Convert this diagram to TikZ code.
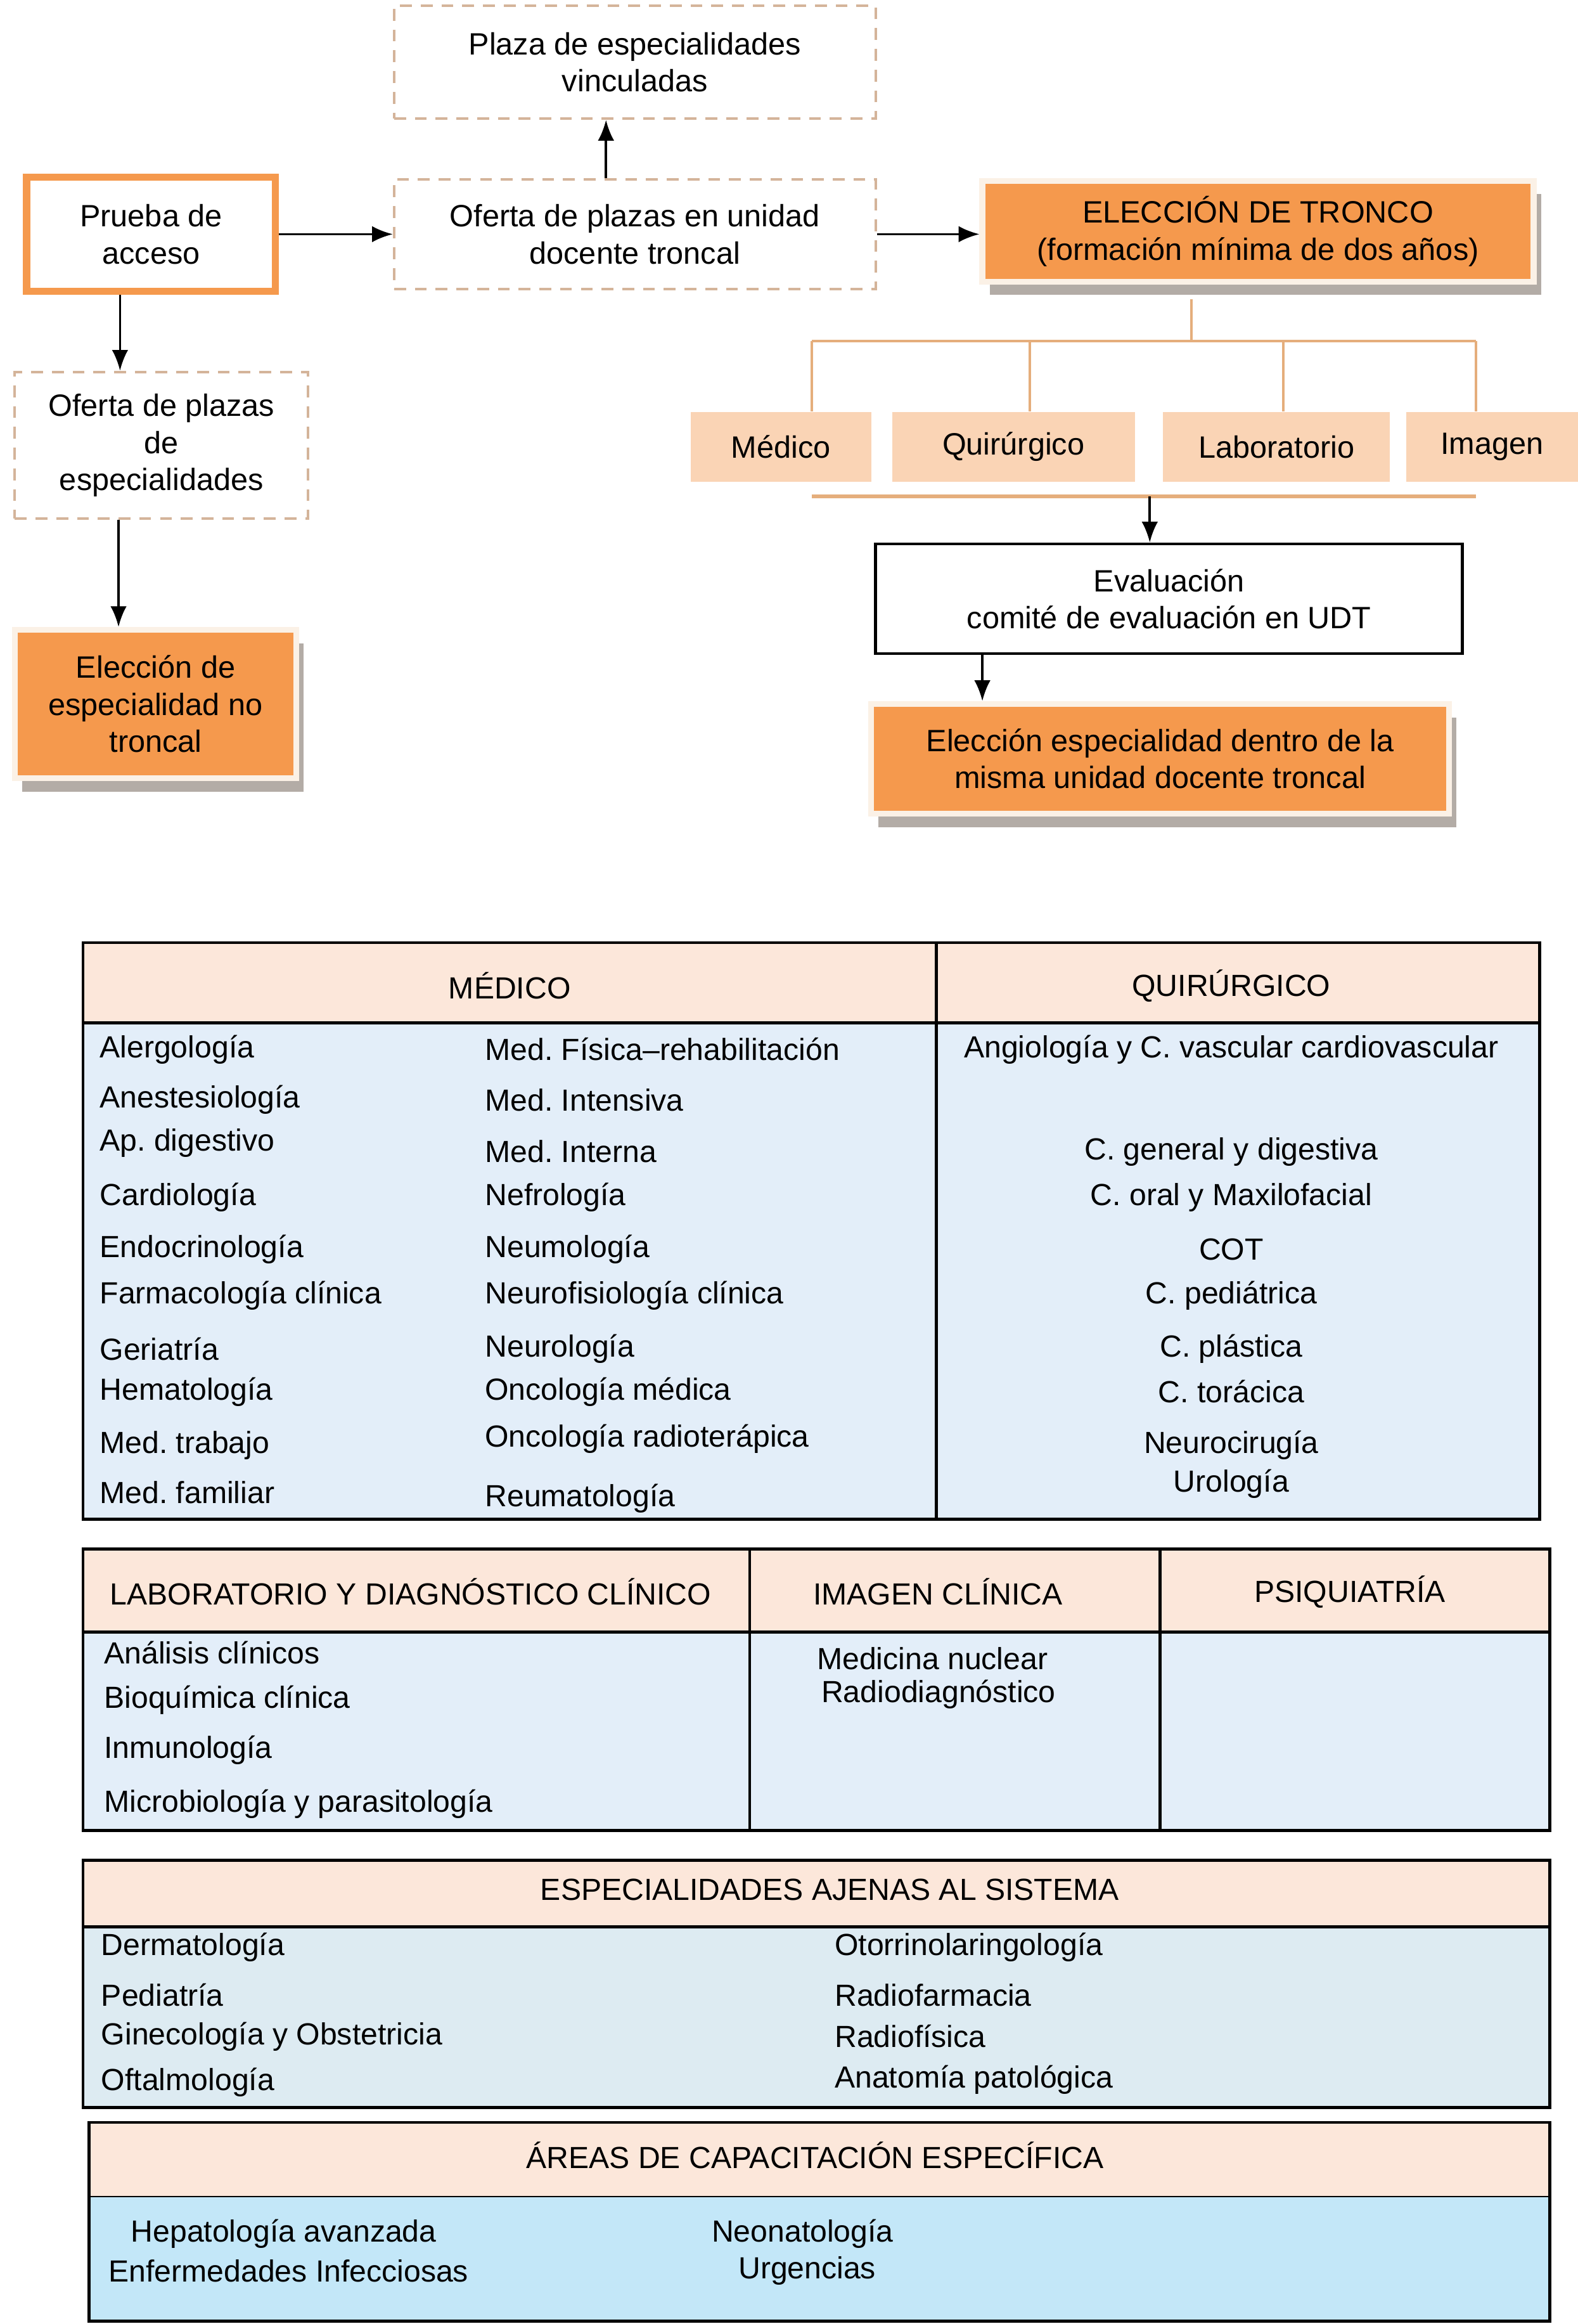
\documentclass[tikz,border=0pt]{standalone}
\usepackage{fontspec}
\setmainfont{Liberation Sans}
\usetikzlibrary{arrows.meta,shadows}
\frenchspacing
\definecolor{boxorange}{HTML}{F5994D}
\definecolor{tabpeach}{HTML}{FAD4B5}
\definecolor{headpeach}{HTML}{FCE7DA}
\definecolor{bodyblue}{HTML}{E3EEF9}
\definecolor{bodyteal}{HTML}{DDEBF2}
\definecolor{bodysky}{HTML}{C3E7F8}
\definecolor{dashtan}{HTML}{D4B49A}
\definecolor{treetan}{HTML}{E5AE7C}
\definecolor{shadowgray}{HTML}{B3ACA6}
\definecolor{paleframe}{HTML}{FBF1E6}
\tikzset{every picture/.append style={x=0.5pt,y=-0.5pt}}
\tikzset{flowtext/.style={font=\fontsize{10.4}{12.5}\selectfont, align=center}}
\tikzset{dashbox/.style={flowtext, rectangle, draw=dashtan, line width=0.9pt, dash pattern=on 4pt off 3pt, fill=white}}
\tikzset{cardbox/.style={flowtext, rectangle, fill=boxorange, draw=paleframe, line width=2pt, general shadow={fill=shadowgray, shadow xshift=2.5pt, shadow yshift=-4.5pt}}}
\tikzset{startbox/.style={flowtext, rectangle, fill=white, draw=boxorange, line width=2.4pt}}
\tikzset{tab/.style={flowtext, rectangle, fill=tabpeach}}
\tikzset{evalbox/.style={flowtext, rectangle, draw=black, line width=1pt, fill=white}}
\tikzset{flowarrow/.style={-{Latex[length=7pt,width=5.5pt]}, line width=0.8pt}}
\tikzset{treeline/.style={draw=treetan, line width=0.8pt}}
\tikzset{tableline/.style={draw=black, line width=1pt}}
\tikzset{cell/.style={font=\fontsize{10.3}{12.5}\selectfont, inner sep=0pt, anchor=west, align=left}}
\tikzset{cellc/.style={cell, anchor=center, align=center}}

\begin{document}
\begin{tikzpicture}
%flow of access to specialist training, then the specialities grouped by trunk
\fill[white] (0,0) rectangle (1065,1568);
\useasboundingbox (0,0) rectangle (1065,1568);
\node (plaza) at (428.5,42)[dashbox, minimum width=162.5pt, minimum height=38pt]{Plaza de especialidades\\vinculadas};
\node (prueba) at (102,158)[startbox, minimum width=84pt, minimum height=38.5pt]{Prueba de\\acceso};
\node (ofertaudt) at (428.5,158)[dashbox, minimum width=162.5pt, minimum height=37pt]{Oferta de plazas en unidad\\docente troncal};
\node (tronco) at (849,156)[cardbox, minimum width=186pt, minimum height=34pt]{ELECCIÓN DE TRONCO\\(formación mínima de dos años)};
\node (medico) at (527,301.5)[tab, minimum width=61pt, minimum height=23.5pt]{Médico};
\node (quirurgico) at (684,301.5)[tab, minimum width=82pt, minimum height=23.5pt]{Quirúrgico};
\node (laboratorio) at (861.5,301.5)[tab, minimum width=76.5pt, minimum height=23.5pt]{Laboratorio};
\node (imagen) at (1007,301.5)[tab, minimum width=58pt, minimum height=23.5pt]{Imagen};
\node (evaluacion) at (789,404)[evalbox, minimum width=198pt, minimum height=37pt]{Evaluación\\comité de evaluación en UDT};
\node (eleccionudt) at (783,512)[cardbox, minimum width=195pt, minimum height=37pt]{Elección especialidad dentro de la\\misma unidad docente troncal};
\node (ofertaesp) at (109,300.5)[dashbox, minimum width=99pt, minimum height=49.5pt]{Oferta de plazas\\de\\especialidades};
\node (notroncal) at (105,475)[cardbox, minimum width=95pt, minimum height=50pt]{Elección de\\especialidad no\\troncal};
\coordinate (bus) at (804,230);
\coordinate (busbottom) at (776,335);
\draw[flowarrow] (prueba.east)--(ofertaudt.west |- prueba.east);
\draw[flowarrow] ([xshift=-9.75pt]ofertaudt.north)--([xshift=-9.75pt]plaza.south);
\draw[flowarrow] (ofertaudt.east)--(tronco.west |- ofertaudt.east);
\draw[treeline] ([yshift=-5pt]tronco.south -| bus)--(bus);
\draw[treeline] (548,230)--(996,230);
\foreach \x/\n in {548/medico,695/quirurgico,866/laboratorio,996/imagen}
  \draw[treeline] (\x,230)--(\n.north -| \x,230);
\draw[treeline, line width=1.3pt] (548,335)--(996,335);
\draw[flowarrow] (busbottom)--(evaluacion.north -| busbottom);
\draw[flowarrow] (evaluacion.south -| 663,0)--(eleccionudt.north -| 663,0);
\draw[flowarrow] (prueba.south -| 81,0)--(ofertaesp.north -| 81,0);
\draw[flowarrow] (ofertaesp.south -| 80,0)--(notroncal.north -| 80,0);
% table of medical and surgical trunks
\fill[headpeach] (56,636) rectangle (1039,690);
\fill[bodyblue] (56,690) rectangle (1039,1025);
\draw[tableline] (56,636) rectangle (1039,1025);
\draw[tableline] (56,690)--(1039,690);
\draw[tableline] (632,636)--(632,1025);
\node (hmedico) at (344,665)[cellc]{MÉDICO};
\node (hquirurgico) at (831,665)[cellc]{QUIRÚRGICO};
\foreach \t/\y [count=\i] in {Alergología/708, Anestesiología/742, Ap. digestivo/771, Cardiología/808, Endocrinología/843, Farmacología clínica/874, Geriatría/910, Hematología/939, Med. trabajo/975, Med. familiar/1007}
  \node (meda\i) at (67,\y)[cell]{\t};
\foreach \t/\y [count=\i] in {Med. Física–rehabilitación/708, Med. Intensiva/742, Med. Interna/777, Nefrología/808, Neumología/843, Neurofisiología clínica/874, Neurología/910, Oncología médica/939, Oncología radioterápica/971, Reumatología/1011}
  \node (medb\i) at (327,\y)[cell]{\t};
\foreach \t/\y [count=\i] in {Angiología y C. vascular cardiovascular/708, C. general y digestiva/777, C. oral y Maxilofacial/808, COT/843, C. pediátrica/874, C. plástica/910, C. torácica/939, Neurocirugía/975, Urología/1001}
  \node (quir\i) at (831,\y)[cellc]{\t};
% laboratory, imaging and psychiatry
\fill[headpeach] (56,1045) rectangle (1046,1101);
\fill[bodyblue] (56,1101) rectangle (1046,1235);
\draw[tableline] (56,1045) rectangle (1046,1235);
\draw[tableline] (56,1101)--(1046,1101);
\draw[tableline] (506,1045)--(506,1235);
\draw[tableline] (783,1045)--(783,1235);
\node (hlab) at (74,1074)[cell]{LABORATORIO Y DIAGNÓSTICO CLÍNICO};
\node (himagen) at (633,1074)[cellc]{IMAGEN CLÍNICA};
\node (hpsiq) at (911,1074)[cellc]{PSIQUIATRÍA};
\foreach \t/\y [count=\i] in {Análisis clínicos/1115, Bioquímica clínica/1147, Inmunología/1181, Microbiología y parasitología/1217}
  \node (lab\i) at (70,\y)[cell]{\t};
\node (img1) at (551,1119)[cell]{Medicina nuclear};
\node (img2) at (554,1143)[cell]{Radiodiagnóstico};
% specialities outside the system
\fill[headpeach] (56,1255) rectangle (1046,1300);
\fill[bodyteal] (56,1300) rectangle (1046,1422);
\draw[tableline] (56,1255) rectangle (1046,1422);
\draw[tableline] (56,1300)--(1046,1300);
\node (hajenas) at (560,1275)[cellc]{ESPECIALIDADES AJENAS AL SISTEMA};
\foreach \t/\y [count=\i] in {Dermatología/1314, Pediatría/1346, Ginecología y Obstetricia/1374, Oftalmología/1405}
  \node (ajena\i) at (68,\y)[cell]{\t};
\foreach \t/\y [count=\i] in {Otorrinolaringología/1314, Radiofarmacia/1346, Radiofísica/1374, Anatomía patológica/1403}
  \node (ajenb\i) at (563,\y)[cell]{\t};
% specific training areas
\fill[headpeach] (60,1432) rectangle (1046,1482);
\fill[bodysky] (60,1482) rectangle (1046,1566);
\draw[tableline] (60,1432) rectangle (1046,1566);
\draw[line width=0.6pt] (60,1482)--(1046,1482);
\node (hareas) at (550,1454)[cellc]{ÁREAS DE CAPACITACIÓN ESPECÍFICA};
\node (area1) at (88,1507)[cell]{Hepatología avanzada};
\node (area2) at (73,1532)[cell]{Enfermedades Infecciosas};
\node (area3) at (480,1507)[cell]{Neonatología};
\node (area4) at (498,1532)[cell]{Urgencias};
\end{tikzpicture}
\end{document}
